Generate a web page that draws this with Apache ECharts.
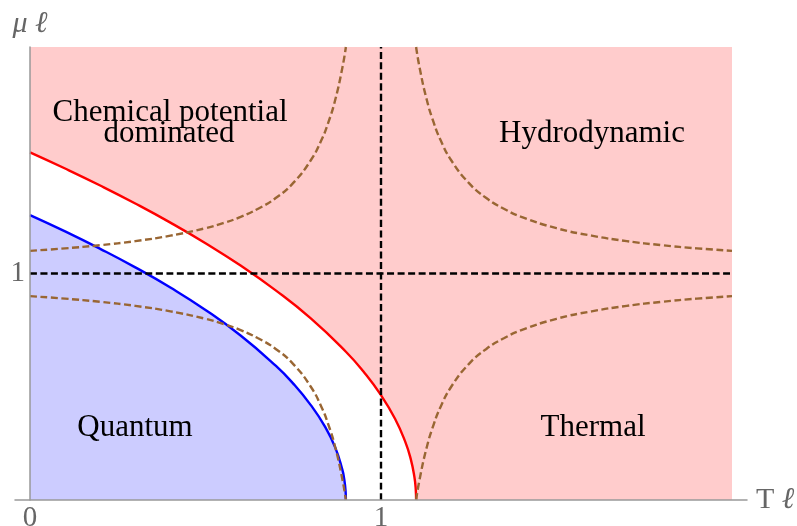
<!DOCTYPE html>
<html>
<head>
<meta charset="utf-8">
<script src="https://cdn.jsdelivr.net/npm/echarts@6/dist/echarts.min.js"></script>
<style>
  html, body { margin: 0; padding: 0; background: #fff; }
  #main { width: 797px; height: 526px; }
</style>
</head>
<body>
<div id="main"></div>
<script>
// regime diagram, T l along x, mu l along y
const xTicks = [0, 1];
const yTicks = [1];

// upper edge of the shaded box
const plotTop = [[0, 2], [2, 2]];

// red boundary
const redCurve = [
  [0, 1.535], [0.1, 1.4635], [0.2, 1.3884], [0.3, 1.309], [0.4, 1.2245],
  [0.5, 1.1336], [0.6, 1.0349], [0.7, 0.9256], [0.8, 0.8016], [0.9, 0.6545],
  [0.95, 0.5668], [1.0, 0.4628], [1.04, 0.3585], [1.07, 0.2535], [1.085, 0.1792],
  [1.095, 0.1035], [1.099, 0.047], [1.1, 0]
];

// blue boundary
const blueCurve = [
  [0, 1.258], [0.1, 1.186], [0.2, 1.109], [0.3, 1.027], [0.4, 0.938],
  [0.5, 0.839], [0.6, 0.726], [0.7, 0.593], [0.75, 0.514], [0.8, 0.419],
  [0.84, 0.325], [0.87, 0.230], [0.89, 0.133], [0.895, 0.094], [0.899, 0.042], [0.9, 0]
];

// brown dashed crossovers
const dashUpperLeft = [
  [0, 1.1], [0.1, 1.111], [0.2, 1.125], [0.3, 1.143], [0.4, 1.167], [0.5, 1.2],
  [0.55, 1.222], [0.6, 1.25], [0.65, 1.286], [0.7, 1.333], [0.75, 1.4], [0.8, 1.5],
  [0.83, 1.588], [0.85, 1.667], [0.87, 1.769], [0.89, 1.909], [0.9, 2.0]
];
const dashLowerLeft = [
  [0, 0.9], [0.1, 0.889], [0.2, 0.875], [0.3, 0.857], [0.4, 0.833], [0.5, 0.8],
  [0.55, 0.778], [0.6, 0.75], [0.65, 0.714], [0.7, 0.667], [0.75, 0.6], [0.8, 0.5],
  [0.83, 0.412], [0.85, 0.333], [0.87, 0.231], [0.89, 0.091], [0.9, 0]
];
const dashUpperRight = [
  [1.1, 2.0], [1.11, 1.909], [1.13, 1.769], [1.15, 1.667], [1.17, 1.588], [1.2, 1.5],
  [1.25, 1.4], [1.3, 1.333], [1.35, 1.286], [1.4, 1.25], [1.5, 1.2], [1.6, 1.167],
  [1.7, 1.143], [1.8, 1.125], [1.9, 1.111], [2.0, 1.1]
];
const dashLowerRight = [
  [1.1, 0], [1.11, 0.091], [1.13, 0.231], [1.15, 0.333], [1.17, 0.412], [1.2, 0.5],
  [1.25, 0.6], [1.3, 0.667], [1.35, 0.714], [1.4, 0.75], [1.5, 0.8], [1.6, 0.833],
  [1.7, 0.857], [1.8, 0.875], [1.9, 0.889], [2.0, 0.9]
];

// black dashed cross at T l = 1, mu l = 1
const crossV = [[1, 0], [1, 2]];
const crossH = [[0, 1], [2, 1]];

const regionNames = ['Chemical potential', 'dominated', 'Hydrodynamic', 'Quantum', 'Thermal'];

const serif = "'Liberation Serif', 'DejaVu Serif', serif";
const brown = '#996633';

const chart = echarts.init(document.getElementById('main'));

function areaLine(data, lineColor, fill, z) {
  return {
    type: 'line', data: data, z: z, showSymbol: false, smooth: true, silent: true,
    lineStyle: { color: lineColor, width: lineColor ? 2.4 : 0 },
    areaStyle: { color: fill, opacity: 1 }
  };
}
function dashLine(data, color, z) {
  return {
    type: 'line', data: data, z: z, showSymbol: false, smooth: true, silent: true,
    lineStyle: { color: color, width: 2.4, type: [7, 3.5] }
  };
}

const labelFont = '31px ' + serif;
function label(text, x, y) {
  return {
    type: 'text', x: x, y: y, z: 20, silent: true,
    style: { text: text, font: labelFont, fill: '#000', textAlign: 'center', textVerticalAlign: 'middle' }
  };
}

chart.setOption({
  animation: false,
  backgroundColor: '#fff',
  grid: { left: 15, right: 50, top: 47, bottom: 26, containLabel: false, outerBoundsMode: 'none' },
  xAxis: {
    type: 'value', min: -0.04274, max: 2.04274, z: 10,
    name: 'T {i|ℓ}', nameLocation: 'end', nameGap: 9,
    nameTextStyle: {
      color: '#666', fontFamily: serif, fontSize: 30, verticalAlign: 'middle',
      rich: { i: { fontStyle: 'italic', fontFamily: serif, fontSize: 30, color: '#666' } }
    },
    splitLine: { show: false },
    axisTick: { show: false },
    axisLine: { lineStyle: { color: '#999', width: 1.5 } },
    axisLabel: { customValues: xTicks, color: '#666', fontFamily: serif, fontSize: 29, margin: 4 }
  },
  yAxis: {
    type: 'value', min: 0, max: 2, z: 10,
    name: '{i|μ ℓ}', nameLocation: 'end', nameGap: 8,
    nameTextStyle: {
      color: '#666', fontFamily: serif, fontSize: 30, align: 'center',
      rich: { i: { fontStyle: 'italic', fontFamily: serif, fontSize: 30, color: '#666' } }
    },
    splitLine: { show: false },
    axisTick: { show: false },
    axisLine: { onZero: true, lineStyle: { color: '#999', width: 1.5 } },
    axisLabel: { customValues: yTicks, color: '#666', fontFamily: serif, fontSize: 29, margin: -10 }
  },
  series: [
    areaLine(plotTop, null, '#FFCCCC', 1),
    areaLine(redCurve, '#FF0000', '#FFFFFF', 2),
    areaLine(blueCurve, '#0000FF', '#CCCCFF', 3),
    dashLine(dashUpperLeft, brown, 4),
    dashLine(dashLowerLeft, brown, 4),
    dashLine(dashUpperRight, brown, 4),
    dashLine(dashLowerRight, brown, 4),
    dashLine(crossV, '#000', 5),
    dashLine(crossH, '#000', 5)
  ],
  graphic: [
    label(regionNames[0], 170, 113),
    label(regionNames[1], 169, 134),
    label(regionNames[2], 592, 134),
    label(regionNames[3], 135, 428),
    label(regionNames[4], 593, 428)
  ]
});
</script>
</body>
</html>
